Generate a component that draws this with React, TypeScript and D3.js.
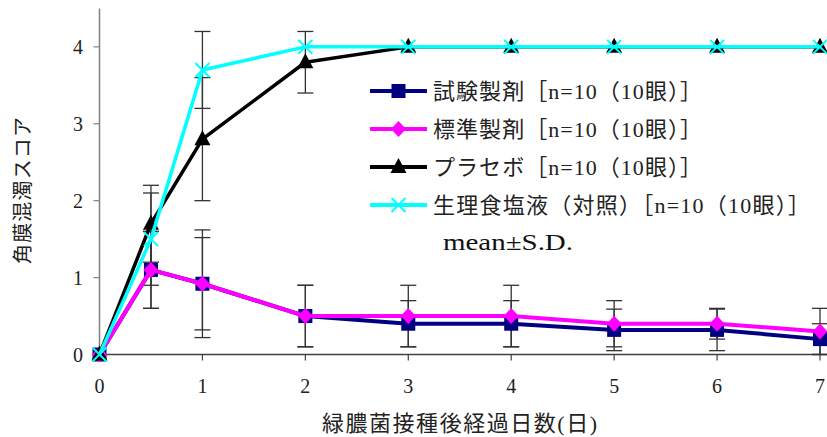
import React from 'react'
import * as d3 from 'd3'

// Data
const days = [0, 0.5, 1, 2, 3, 4, 5, 6, 7]
const xTicks = [0, 1, 2, 3, 4, 5, 6, 7]
const yTicks = [0, 1, 2, 3, 4]

const testMean = [0, 1.1, 0.92, 0.5, 0.4, 0.4, 0.32, 0.32, 0.2]
const testSD = [0, 0.5, 0.7, 0.4, 0.3, 0.3, 0.27, 0.27, 0.2]
const stdMean = [0, 1.1, 0.92, 0.5, 0.5, 0.5, 0.4, 0.4, 0.3]
const stdSD = [0, 0.5, 0.6, 0.4, 0.4, 0.4, 0.3, 0.2, 0.3]
const placeboMean = [0, 1.7, 2.8, 3.8, 4, 4, 4, 4, 4]
const placeboSD = [0, 0.5, 0.8, 0.4, 0, 0, 0, 0, 0]
const salineMean = [0, 1.5, 3.7, 4, 4, 4, 4, 4, 4]
const salineSD = [0, 0.6, 0.5, 0, 0, 0, 0, 0, 0]

const seriesLabels = [
  '試験製剤［n=10（10眼）］',
  '標準製剤［n=10（10眼）］',
  'プラセボ［n=10（10眼）］',
  '生理食塩液（対照）［n=10（10眼）］'
]

const series = [
  { label: seriesLabels[0], mean: testMean, sd: testSD, color: '#000080', marker: 'square', len: 269 },
  { label: seriesLabels[1], mean: stdMean, sd: stdSD, color: '#ff00ff', marker: 'diamond', len: 269 },
  { label: seriesLabels[2], mean: placeboMean, sd: placeboSD, color: '#000000', marker: 'triangle', len: 269 },
  { label: seriesLabels[3], mean: salineMean, sd: salineSD, color: '#00ffff', marker: 'cross', len: 377 }
]

const latin = '"Liberation Serif", "DejaVu Serif", "Noto Sans CJK JP", serif'

function Marker({ type, x, y, color }: { type: string; x: number; y: number; color: string }) {
  if (type === 'square') {
    return <rect x={x - 7} y={y - 7} width={14} height={14} fill={color} />
  }
  if (type === 'diamond') {
    return <path d={`M${x},${y - 8}L${x + 7.5},${y}L${x},${y + 8}L${x - 7.5},${y}Z`} fill={color} />
  }
  if (type === 'triangle') {
    return <path d={`M${x},${y - 9}L${x + 8},${y + 6}L${x - 8},${y + 6}Z`} fill={color} />
  }
  return (
    <g stroke={color} strokeWidth={2}>
      <line x1={x - 7} y1={y - 7} x2={x + 7} y2={y + 7} />
      <line x1={x - 7} y1={y + 7} x2={x + 7} y2={y - 7} />
    </g>
  )
}

export default function App() {
  const width = 827
  const height = 437

  const x = d3.scaleLinear().domain([0, 7]).range([99.5, 820])
  const y = d3.scaleLinear().domain([0, 4.5]).range([354.5, 8.4])

  const line = d3.line<number>()
    .x((_, i) => x(days[i]))
    .y(d => y(d))

  const font = { fontFamily: latin }

  return (
    <svg width={width} height={height} style={{ position: 'absolute', left: 0, top: 0, background: '#fff' }}>
      {/* axes */}
      <line x1={x(0)} y1={y(4.5)} x2={x(0)} y2={y(0)} stroke="#808080" strokeWidth={1.5} />
      <line x1={x(0)} y1={y(0)} x2={width} y2={y(0)} stroke="#404040" strokeWidth={1.5} />
      {yTicks.map(t => (
        <g key={'y' + t}>
          <line x1={x(0) - 6} x2={x(0)} y1={y(t)} y2={y(t)} stroke="#808080" strokeWidth={1.2} />
          <text x={83} y={y(t)} dy="0.35em" textAnchor="end" style={font} fontSize={20} fill="#222">{t}</text>
        </g>
      ))}
      {xTicks.map(t => (
        <g key={'x' + t}>
          <line x1={x(t)} x2={x(t)} y1={y(0)} y2={y(0) + 6} stroke="#404040" strokeWidth={1.2} />
          <text x={x(t)} y={393} textAnchor="middle" style={font} fontSize={20} fill="#222">{t}</text>
        </g>
      ))}

      {/* error bars */}
      {series.map((s, si) => (
        <g key={'e' + si} stroke="#333" strokeWidth={1.3}>
          {s.mean.map((m, i) => {
            if (!s.sd[i]) return null
            const cx = x(days[i])
            const top = y(m + s.sd[i])
            const bot = y(m - s.sd[i])
            return (
              <g key={i}>
                <line x1={cx} x2={cx} y1={top} y2={bot} />
                <line x1={cx - 8} x2={cx + 8} y1={top} y2={top} />
                <line x1={cx - 8} x2={cx + 8} y1={bot} y2={bot} />
              </g>
            )
          })}
        </g>
      ))}

      {/* series lines and markers */}
      {series.map((s, si) => (
        <g key={'s' + si}>
          <path d={line(s.mean) || ''} fill="none" stroke={s.color} strokeWidth={si < 2 ? 4 : 3.5} strokeLinejoin="round" />
          {s.mean.map((m, i) => (
            <Marker key={i} type={s.marker} x={x(days[i])} y={y(m)} color={s.color} />
          ))}
        </g>
      ))}

      {/* legend */}
      {series.map((s, si) => {
        const ly = 91 + si * 38
        return (
          <g key={'l' + si}>
            <line x1={370} x2={427} y1={ly} y2={ly} stroke={s.color} strokeWidth={4} />
            <Marker type={s.marker} x={398.5} y={ly} color={s.color} />
            <text x={433} y={ly} dominantBaseline="central" style={font} fontSize={22} fill="#222"
              textLength={s.len} lengthAdjust="spacing">{s.label}</text>
          </g>
        )
      })}
      <text x={443} y={242} dominantBaseline="central" style={font} fontSize={24} fill="#111"
        textLength={130} lengthAdjust="spacingAndGlyphs">mean±S.D.</text>

      {/* axis titles */}
      <text x={459.5} y={423} dominantBaseline="central" textAnchor="middle" style={font} fontSize={22}
        fill="#222" textLength={275} lengthAdjust="spacing">緑膿菌接種後経過日数(日)</text>
      <text transform="translate(23,190.5) rotate(-90)" dominantBaseline="central" textAnchor="middle"
        style={font} fontSize={20} fill="#222" textLength={147} lengthAdjust="spacing">角膜混濁スコア</text>
    </svg>
  )
}
